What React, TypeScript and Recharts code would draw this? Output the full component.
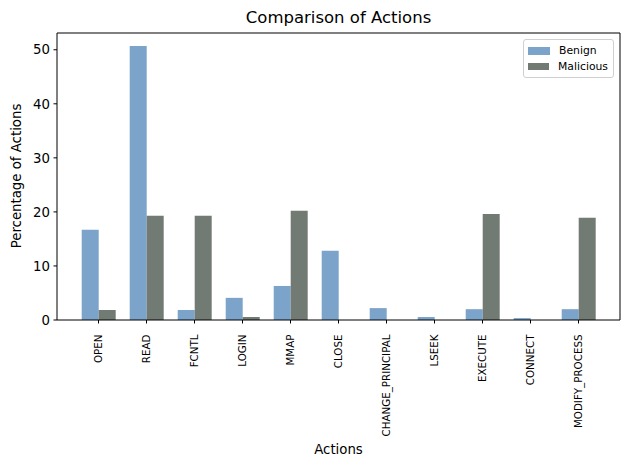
import { BarChart, Bar, XAxis, YAxis, Legend } from 'recharts';

const actions = [
  'OPEN', 'READ', 'FCNTL', 'LOGIN', 'MMAP', 'CLOSE',
  'CHANGE_PRINCIPAL', 'LSEEK', 'EXECUTE', 'CONNECT', 'MODIFY_PROCESS',
];
const benign = [16.7, 50.7, 1.85, 4.1, 6.3, 12.8, 2.2, 0.55, 2.0, 0.35, 2.0];
const malicious = [1.85, 19.3, 19.3, 0.55, 20.2, 0, 0, 0, 19.6, 0, 18.9];
const yTicks = [0, 10, 20, 30, 40, 50];

const BENIGN = '#7ca3c9';
const MALICIOUS = '#717a73';
const FONT = '"DejaVu Sans", sans-serif';

const data = actions.map((a, i) => ({ action: a, benign: benign[i], malicious: malicious[i] }));

function RotatedTick({ x, y, payload }: any) {
  return (
    <text
      x={x} y={y + 9} transform={`rotate(-90, ${x}, ${y + 9})`}
      textAnchor="end" dy="0.36em" fontSize={10.3} fontFamily={FONT} fill="#000"
    >
      {payload.value}
    </text>
  );
}

function LegendBox() {
  const rows = [
    { label: 'Benign', color: BENIGN },
    { label: 'Malicious', color: MALICIOUS },
  ];
  return (
    <div style={{
      border: '1px solid #d0d0d0', borderRadius: 3, background: 'rgba(255,255,255,0.8)',
      padding: '3px 5px 3px 4px', fontFamily: FONT, fontSize: 10.8, color: '#000',
    }}>
      {rows.map((r) => (
        <div key={r.label} style={{ display: 'flex', alignItems: 'center', height: 15.5 }}>
          <span style={{ width: 22, height: 7.5, background: r.color, marginRight: 9 }} />
          <span>{r.label}</span>
        </div>
      ))}
    </div>
  );
}

export default function App() {
  return (
    <div style={{ position: 'absolute', left: 0, top: 0, width: 630, height: 470, background: '#fff' }}>
      <BarChart
        width={630} height={470} data={data}
        margin={{ top: 32, right: 9, bottom: 0, left: 0 }}
        barCategoryGap="15%" barGap={0}
      >
        <XAxis
          dataKey="action" height={150} interval={0} padding={{ left: 17.5, right: 17.5 }}
          tick={<RotatedTick />} tickSize={3.5} stroke="#000" axisLine={{ stroke: '#000' }}
        />
        <XAxis xAxisId="top" dataKey="action" orientation="top" height={1} tick={false} tickLine={false} axisLine={{ stroke: '#000' }} />
        <YAxis
          domain={[0, 53.1]} ticks={yTicks} width={57} tickSize={3.5} tickMargin={3.5}
          tick={{ fontSize: 13.3, fontFamily: FONT, fill: '#000' }} stroke="#000"
        />
        <YAxis yAxisId="right" orientation="right" width={1} tick={false} tickLine={false} axisLine={{ stroke: '#000' }} />
        <Legend
          layout="horizontal" verticalAlign="middle" align="center"
          wrapperStyle={{ top: 39, left: 523, width: 91 }}
          content={<LegendBox />}
        />
        <Bar dataKey="benign" name="Benign" fill={BENIGN} isAnimationActive={false} />
        <Bar dataKey="malicious" name="Malicious" fill={MALICIOUS} isAnimationActive={false} />
      </BarChart>
      <div style={{
        position: 'absolute', top: 8, left: 57, width: 563, textAlign: 'center',
        fontFamily: FONT, fontSize: 16.5, color: '#000',
      }}>
        Comparison of Actions
      </div>
      <div style={{
        position: 'absolute', top: 442, left: 57, width: 563, textAlign: 'center',
        fontFamily: FONT, fontSize: 13.3, color: '#000',
      }}>
        Actions
      </div>
      <div style={{
        position: 'absolute', left: 16, top: 176, transform: 'translate(-50%, -50%) rotate(-90deg)',
        whiteSpace: 'nowrap', fontFamily: FONT, fontSize: 13.3, color: '#000',
      }}>
        Percentage of Actions
      </div>
    </div>
  );
}
